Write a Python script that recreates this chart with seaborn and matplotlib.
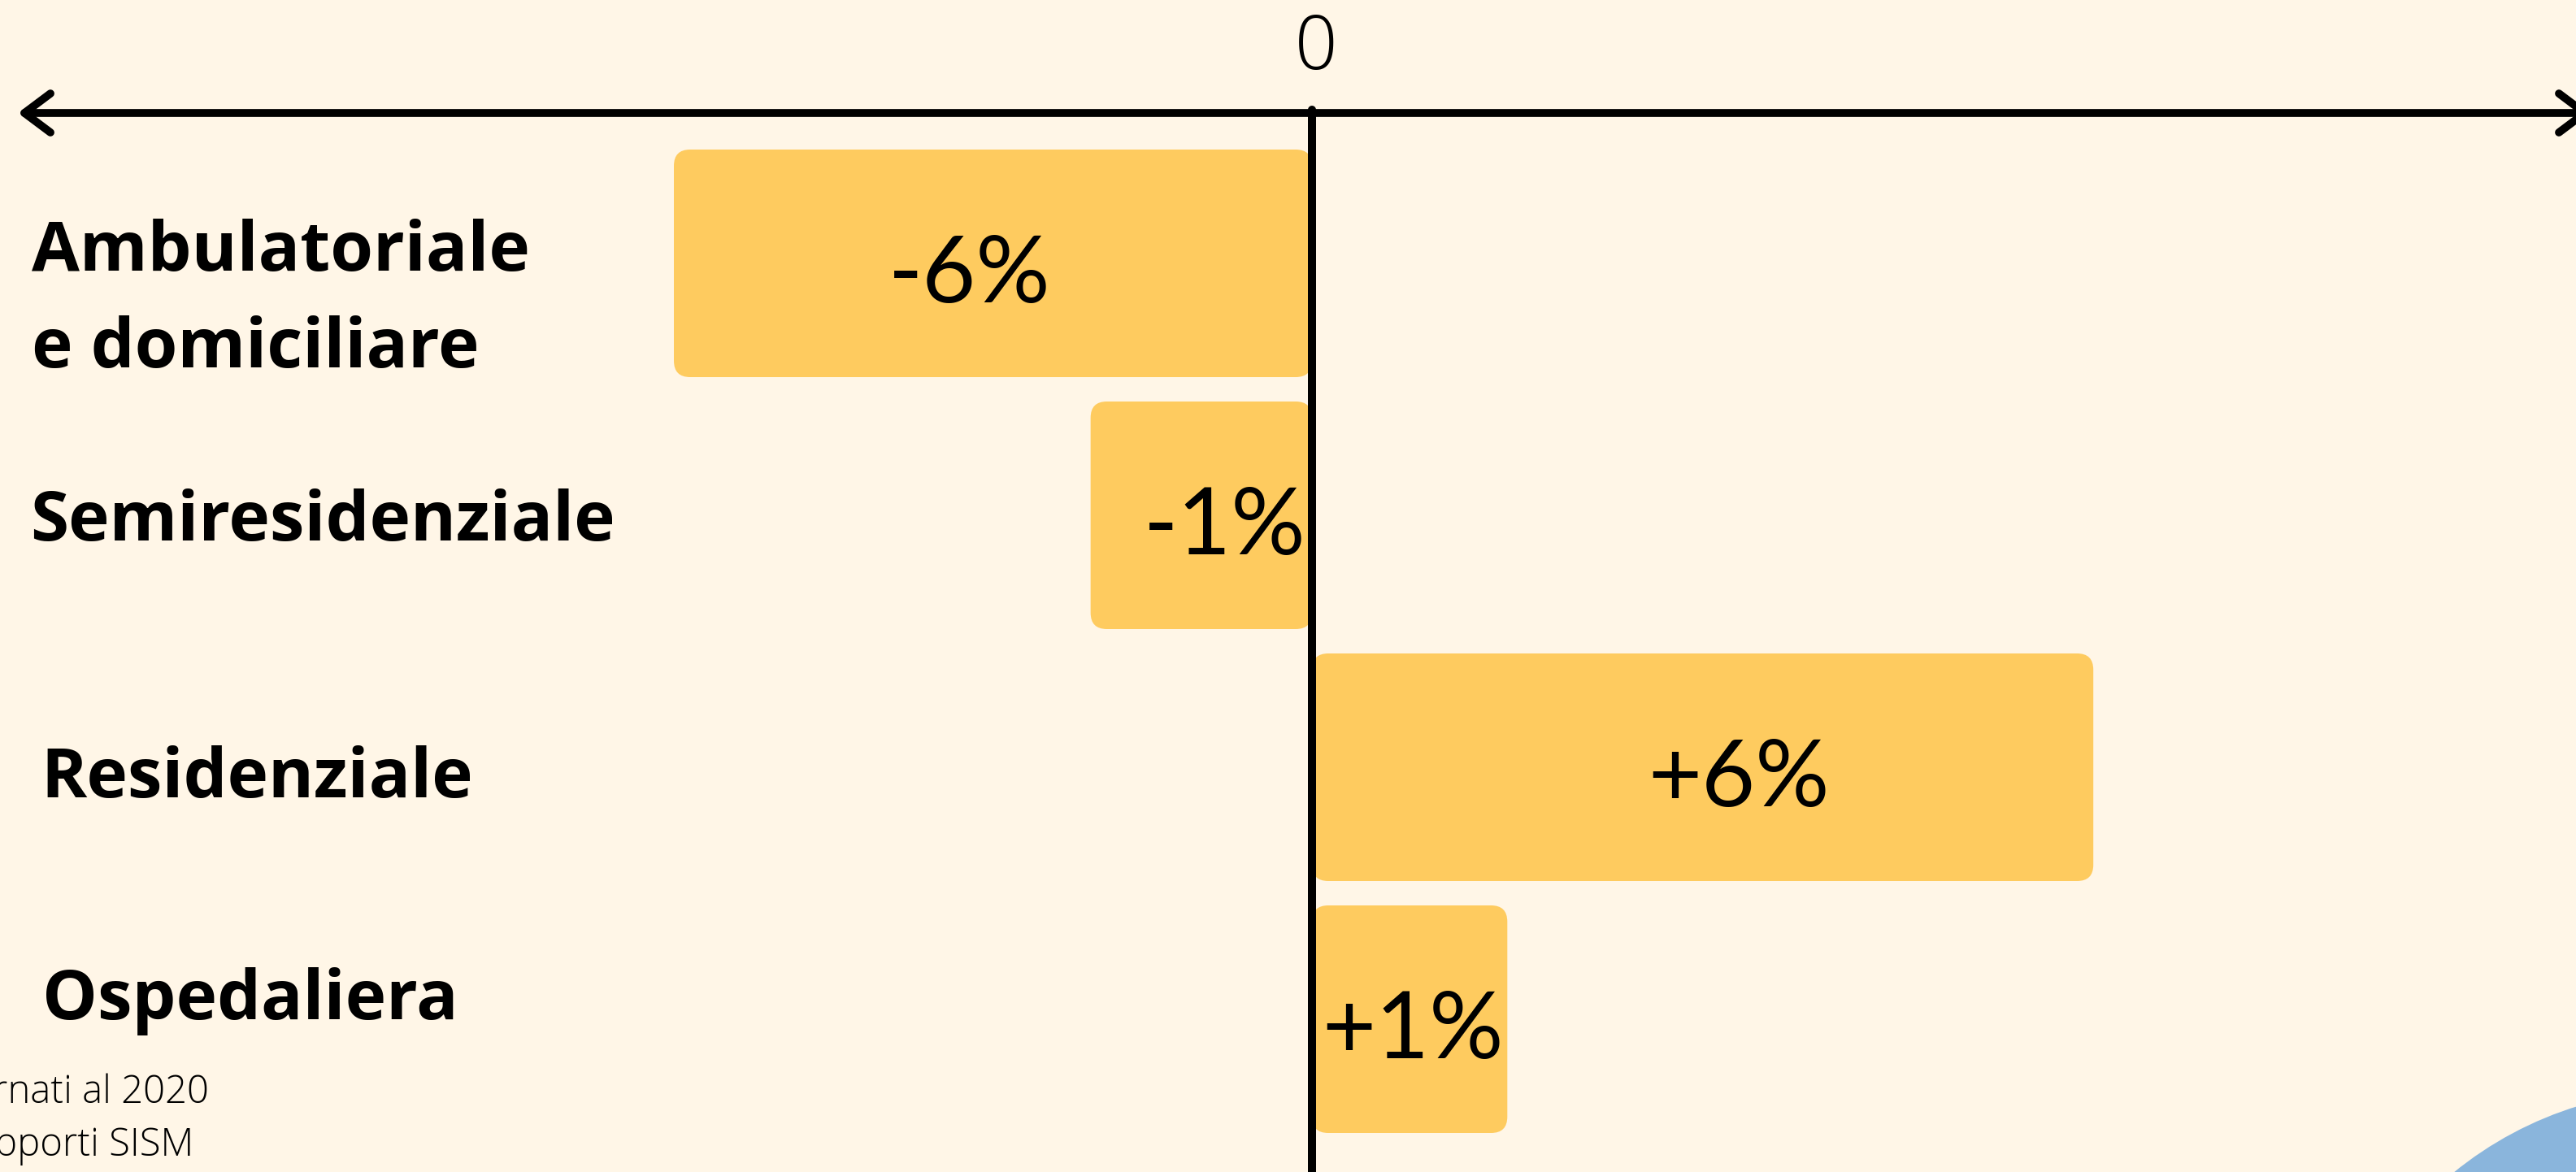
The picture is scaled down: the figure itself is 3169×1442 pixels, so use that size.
import pandas as pd
import seaborn as sns
import matplotlib.pyplot as plt
from matplotlib.patches import FancyBboxPatch, Circle

sns.set_theme(style="white")
plt.rcParams['font.family'] = ['Open Sans', 'DejaVu Sans']

# data
categories = ["Ambulatoriale\ne domiciliare", "Semiresidenziale", "Residenziale", "Ospedaliera"]
bar_lengths = [-4.9, -1.7, 6.0, 1.5]      # drawn length of each bar
value_labels = ["-6%", "-1%", "+6%", "+1%"]
zero_label = "0"
footer_lines = ["rnati al 2020", "pporti SISM"]

# colours
bg = "#FFF6E7"
bar_colour = "#FECB5F"
blue = "#8AB5DC"

# layout (pixels)
W, H, DPI = 3169, 1442, 100
zero_px, px_per_x = 1614, 160.2
first_px, px_per_y = 324, 310
axis_px = 139
cat_nudge = [(39, 128), (37, 31), (50, 37), (52, 0)]    # label x, last baseline below bar centre
val_nudge = [-29, 29, 44, 4]                            # value label shift from bar centre

fig = plt.figure(figsize=(W / DPI, H / DPI), dpi=DPI, facecolor=bg)
ax = fig.add_axes([0, 0, 1, 1])
ax.set_facecolor(bg)

df = pd.DataFrame({"categoria": categories, "valore": bar_lengths})
sns.barplot(data=df, x="valore", y="categoria", orient="h", color=bar_colour,
            saturation=1, width=280 / px_per_y, ax=ax)

ax.set_xlim(-zero_px / px_per_x, (W - zero_px) / px_per_x)
ax.set_ylim((H - first_px) / px_per_y, -first_px / px_per_y)
ax.set_axis_off()

# swap the plain bars for rounded ones
bars = []
for p in list(ax.patches):
    x0 = min(p.get_x(), p.get_x() + p.get_width())
    y0 = min(p.get_y(), p.get_y() + p.get_height())
    w, h = abs(p.get_width()), abs(p.get_height())
    p.remove()
    rb = FancyBboxPatch((x0, y0), w, h,
                        boxstyle=f"round,pad=0,rounding_size={20 / px_per_x}",
                        mutation_aspect=px_per_x / px_per_y,
                        fc=bar_colour, ec="none", zorder=2)
    ax.add_patch(rb)
    bars.append((x0 + w / 2, y0 + h / 2))

# value labels inside the bars
for (cx, cy), lab, dx in zip(bars, value_labels, val_nudge):
    ax.annotate(lab, (cx, cy), xytext=(dx, -48), textcoords="offset pixels",
                ha="center", va="baseline", fontsize=82, family=["Lato", "DejaVu Sans"],
                color="black", zorder=5)

# category labels on the left
for i, (cat, (lx, dy)) in enumerate(zip(categories, cat_nudge)):
    ax.annotate(cat, (lx / W, i), xycoords=("axes fraction", "data"),
                xytext=(0, -dy), textcoords="offset pixels",
                ha="left", va="baseline", fontsize=61.5, fontweight="bold",
                linespacing=1.55, color="black")

# horizontal axis with arrows
axis_y = (axis_px - first_px) / px_per_y
ax.annotate("", xy=(22 / W, axis_y), xytext=(1.006, axis_y),
            xycoords=("axes fraction", "data"), textcoords=("axes fraction", "data"),
            arrowprops=dict(arrowstyle="<->,head_length=1.0,head_width=0.75",
                            lw=7, color="black", mutation_scale=23,
                            shrinkA=0, shrinkB=0, capstyle="round", joinstyle="round"),
            zorder=4)

# vertical zero line
ax.plot([0, 0], [(axis_px - 4 - first_px) / px_per_y, ax.get_ylim()[0]],
        color="black", lw=7.2, solid_capstyle="round", zorder=4)
ax.annotate(zero_label, (0, axis_y), xytext=(5, 54), textcoords="offset pixels",
            ha="center", va="baseline", fontsize=66, fontweight="light", color="black")

# footer, cut at the left edge
fig.text(257 / W, 1 - 1357 / H, footer_lines[0], ha="right", va="baseline",
         fontsize=34, fontweight="light", color="black")
fig.text(238 / W, 1 - 1422 / H, footer_lines[1], ha="right", va="baseline",
         fontsize=34, fontweight="light", color="black")

# blue disc in the corner
fig.add_artist(Circle((3304 / DPI, (H - 1793) / DPI), 452 / DPI,
                      transform=fig.dpi_scale_trans, fc=blue, ec="none"))

fig.savefig("out.png", dpi=DPI, facecolor=bg)
print("saved out.png")
